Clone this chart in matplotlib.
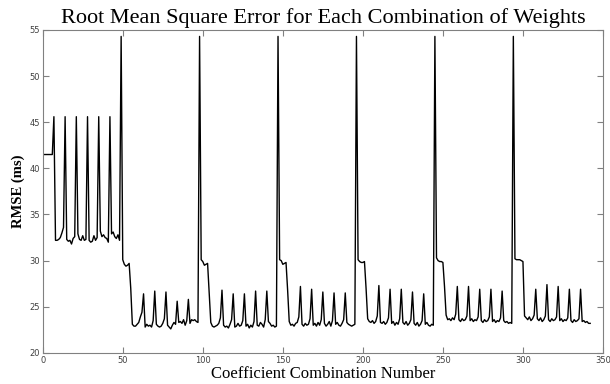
import matplotlib
matplotlib.use('Agg')
import matplotlib.pyplot as plt

# RMSE per coefficient combination, combination number 1..342
block0 = [41.5, 41.5, 41.5, 41.5, 41.5, 41.5, 45.6,
          32.2, 32.2, 32.3, 32.5, 33.0, 33.6, 45.6,
          32.3, 32.1, 32.2, 31.8, 32.4, 32.6, 45.6,
          32.9, 32.3, 32.2, 32.7, 32.2, 32.3, 45.6,
          32.2, 32.0, 32.1, 32.7, 32.2, 32.5, 45.6,
          33.2, 32.6, 32.8, 32.5, 32.4, 32.0, 45.6,
          32.9, 33.1, 32.6, 32.4, 32.8, 32.2, 54.3]
block1 = [30.1, 29.6, 29.4, 29.5, 29.7, 27.0, 23.1,
          22.9, 22.9, 23.1, 23.3, 23.9, 24.4, 26.4,
          22.8, 23.1, 22.9, 23.0, 22.8, 23.5, 26.7,
          23.1, 22.9, 22.8, 22.9, 23.2, 23.7, 26.6,
          23.0, 22.8, 22.6, 23.0, 23.3, 23.1, 25.6,
          23.3, 23.4, 23.2, 23.6, 23.0, 23.5, 25.8,
          23.2, 23.6, 23.5, 23.6, 23.4, 23.3, 54.3]
block2 = [30.1, 29.9, 29.5, 29.6, 29.7, 26.5, 23.3,
          22.9, 22.8, 22.9, 23.0, 23.2, 23.8, 26.8,
          23.0, 22.8, 22.9, 22.7, 23.1, 23.6, 26.4,
          22.8, 22.9, 23.2, 22.9, 23.0, 23.5, 26.4,
          22.9, 23.1, 22.7, 23.0, 22.8, 23.4, 26.7,
          23.0, 22.9, 23.3, 23.1, 22.8, 23.6, 26.7,
          23.4, 23.2, 22.9, 23.0, 22.8, 22.9, 54.3]
block3 = [30.1, 30.0, 29.6, 29.7, 29.8, 26.8, 23.4,
          23.0, 23.1, 22.9, 23.2, 23.3, 23.9, 27.2,
          23.1, 22.9, 23.2, 23.0, 23.1, 23.7, 26.9,
          23.0, 23.2, 22.9, 23.3, 23.0, 23.6, 26.6,
          23.2, 22.9, 23.1, 23.4, 22.9, 23.5, 26.5,
          23.1, 23.3, 23.0, 22.9, 23.2, 23.6, 26.5,
          23.3, 23.1, 23.0, 22.9, 23.0, 23.1, 54.3]
block4 = [30.1, 29.9, 29.8, 29.8, 29.9, 27.0, 23.7,
          23.4, 23.3, 23.5, 23.2, 23.4, 24.0, 27.3,
          23.3, 23.2, 23.4, 23.1, 23.3, 23.8, 26.9,
          23.2, 23.4, 23.0, 23.3, 23.1, 23.7, 26.9,
          23.3, 23.1, 23.4, 23.0, 23.2, 23.6, 26.6,
          23.2, 23.0, 23.3, 22.9, 23.1, 23.5, 26.4,
          23.1, 23.3, 23.0, 22.9, 23.1, 23.0, 54.3]
block5 = [30.3, 30.0, 29.9, 29.9, 29.8, 27.2, 24.1,
          23.6, 23.7, 23.5, 23.8, 23.6, 24.2, 27.2,
          23.6, 23.4, 23.7, 23.5, 23.6, 24.0, 27.2,
          23.5, 23.7, 23.4, 23.6, 23.5, 23.9, 26.9,
          23.5, 23.3, 23.6, 23.4, 23.5, 23.9, 26.9,
          23.4, 23.6, 23.3, 23.5, 23.4, 23.8, 26.7,
          23.5, 23.3, 23.4, 23.2, 23.3, 23.2, 54.3]
block6 = [30.2, 30.1, 30.1, 30.1, 30.0, 29.9, 24.0,
          23.8, 23.6, 23.9, 23.5, 23.7, 24.1, 26.9,
          23.7, 23.5, 23.8, 23.4, 23.6, 24.0, 27.4,
          23.6, 23.4, 23.7, 23.5, 23.6, 23.9, 27.2,
          23.5, 23.7, 23.4, 23.6, 23.5, 23.8, 26.9,
          23.5, 23.3, 23.6, 23.4, 23.5, 23.7, 26.9,
          23.4, 23.5, 23.3, 23.4, 23.2, 23.2]

rmse = block0 + block1 + block2 + block3 + block4 + block5 + block6
combo = list(range(1, len(rmse) + 1))

xticks = [0, 50, 100, 150, 200, 250, 300, 350]
yticks = [20, 25, 30, 35, 40, 45, 50, 55]

fig = plt.figure(figsize=(6.1, 3.84), dpi=100)
ax = fig.add_axes([0.070, 0.081, 0.9185, 0.841])
ax.plot(combo, rmse, color='black', linewidth=1.0)

ax.set_xlim(0, 350)
ax.set_ylim(20, 55)
ax.set_xticks(xticks)
ax.set_yticks(yticks)

tick_font = ['Liberation Sans Narrow', 'DejaVu Sans']
for lab in ax.get_xticklabels() + ax.get_yticklabels():
    lab.set_family(tick_font)
ax.tick_params(direction='in', top=True, right=True, length=4, width=0.8,
               color='#808080', labelsize=6, labelcolor='#404040', pad=2)
for s in ax.spines.values():
    s.set_color('#808080')
    s.set_linewidth(0.8)

serif = ['Liberation Serif', 'DejaVu Serif']
ax.set_title('Root Mean Square Error for Each Combination of Weights',
             family=serif, fontsize=16, pad=5)
ax.set_xlabel('Coefficient Combination Number', family=serif, fontsize=12, labelpad=1)
ax.set_ylabel('RMSE (ms)', family=serif, fontsize=10.5, fontweight='bold', labelpad=3)

fig.savefig('out.png', dpi=100, facecolor='white')
